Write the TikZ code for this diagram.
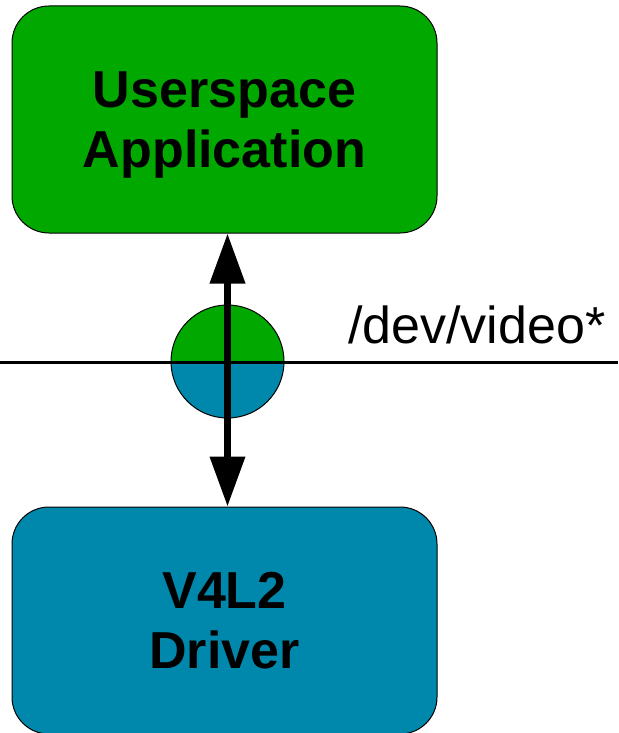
\documentclass[tikz,border=0pt]{standalone}
\usepackage{fontspec}
\setmainfont{Liberation Sans}
\usepackage{tikz}
\usetikzlibrary{arrows.meta, positioning}
\definecolor{appgreen}{RGB}{0,168,0}
\definecolor{drvblue}{RGB}{0,136,172}

\begin{document}
\begin{tikzpicture}[x=1pt, y=-1pt,
    layerbox/.style={draw, line width=1pt, rounded corners=37pt,
        minimum width=425pt, minimum height=227pt, align=center, text depth=0pt,
        font=\fontsize{52}{60}\selectfont\bfseries},
    devnode/.style={circle, draw, line width=1pt, inner sep=0pt,
        minimum size=113pt}]
\useasboundingbox (0,0) rectangle (618,733);
\node[layerbox, fill=appgreen] (app) at (224.5,119.5) {Userspace\\Application};
\node[layerbox, fill=drvblue] (drv) at (224.5,620.5) {V4L2\\Driver};
\node[devnode, path picture={
    \fill[appgreen] (path picture bounding box.west) rectangle (path picture bounding box.north east);
    \fill[drvblue] (path picture bounding box.west) rectangle (path picture bounding box.south east);}]
    (dev) at (227.5,361.5) {};
\coordinate (lineL) at (0,362);
\coordinate (lineR) at (618,362);
\draw[line width=3pt] (lineL) -- (lineR);
\node[anchor=base west, inner sep=0pt, font=\fontsize{52}{60}\selectfont] (devname) at (348,343) {/dev/video*};
\draw[line width=7pt, {Triangle[length=50pt,width=34pt]}-{Triangle[length=50pt,width=34pt]}]
    (dev |- app.south) -- (dev |- drv.north);
\end{tikzpicture}
\end{document}
